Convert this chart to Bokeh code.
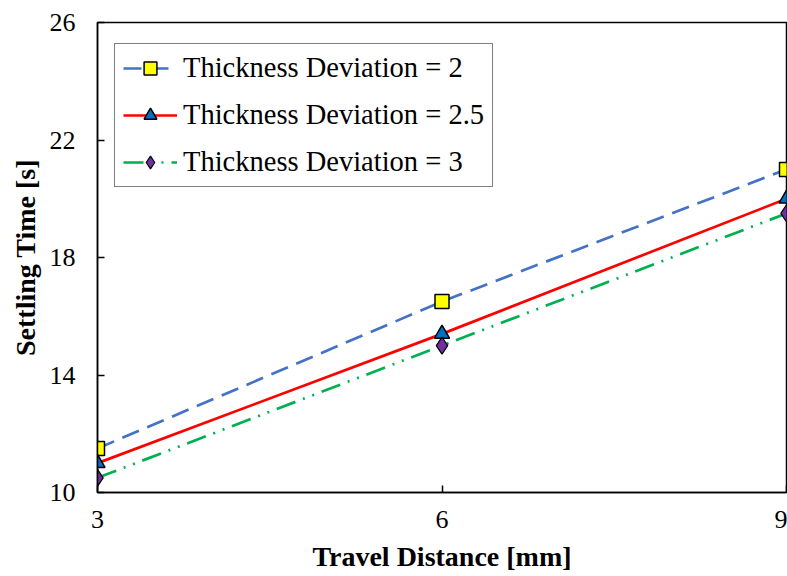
from bokeh.plotting import figure
from bokeh.models import FixedTicker, Legend, LegendItem, Range1d
from bokeh.embed import file_html
from bokeh.resources import INLINE

x = [3, 6, 9]
dev_2 = [11.5, 16.5, 21.0]
dev_25 = [11.0, 15.4, 20.0]
dev_3 = [10.5, 15.0, 19.5]
labels = ["Thickness Deviation = 2", "Thickness Deviation = 2.5", "Thickness Deviation = 3"]
x_ticks = [3, 6, 9]
y_ticks = [10, 14, 18, 22, 26]

FONT = "Liberation Serif"

p = figure(width=787, height=576, output_backend="svg", toolbar_location=None,
           x_range=Range1d(3, 9), y_range=Range1d(10, 26),
           min_border_left=97, min_border_right=1, min_border_top=22, min_border_bottom=84)
p.grid.visible = False
p.outline_line_color = "black"
p.outline_line_width = 1.5

r1l = p.line(x, dev_2, line_color="#4472C4", line_width=2.7, line_dash="18 9")
r1m = p.scatter(x, dev_2, marker="square", size=14, fill_color="#FFFF00", line_color="black", line_width=1.5)
r2l = p.line(x, dev_25, line_color="#FF0000", line_width=2.7)
r2m = p.scatter(x, dev_25, marker="triangle", size=15, fill_color="#0070C0", line_color="black", line_width=1.5)
r3l = p.line(x, dev_3, line_color="#00B050", line_width=2.7, line_dash="20 8 2 8 2 8")
r3m = p.scatter(x, dev_3, marker="diamond", size=17, fill_color="#7030A0", line_color="black", line_width=1.2)

legend = Legend(items=[
    LegendItem(label=labels[0], renderers=[r1l, r1m]),
    LegendItem(label=labels[1], renderers=[r2l, r2m]),
    LegendItem(label=labels[2], renderers=[r3l, r3m]),
], location=(17, 305))
legend.padding = 8
legend.border_line_color = "black"
legend.border_line_width = 1.5
legend.label_text_font = FONT
legend.label_text_font_size = "28.5px"
legend.label_text_color = "black"
legend.glyph_width = 54
legend.glyph_height = 32
legend.label_height = 32
legend.label_standoff = 6
legend.spacing = 15
legend.background_fill_alpha = 1.0
p.add_layout(legend)

for ax in (p.xaxis[0], p.yaxis[0]):
    ax.axis_line_color = "black"
    ax.axis_line_width = 1.5
    ax.major_tick_in = 7
    ax.major_tick_out = 0
    ax.major_tick_line_color = "black"
    ax.major_tick_line_width = 1.5
    ax.minor_tick_line_color = None
    ax.major_label_text_font = FONT
    ax.major_label_text_font_size = "26px"
    ax.major_label_text_color = "black"
    ax.axis_label_text_font = FONT
    ax.axis_label_text_font_size = "28px"
    ax.axis_label_text_font_style = "bold"
    ax.axis_label_text_color = "black"

p.xaxis.ticker = FixedTicker(ticks=x_ticks)
p.yaxis.ticker = FixedTicker(ticks=y_ticks)
p.xaxis.axis_label = "Travel Distance [mm]"
p.yaxis.axis_label = "Settling Time [s]"
p.xaxis.major_label_standoff = 18
p.yaxis.major_label_standoff = 22
p.xaxis.axis_label_standoff = 10
p.yaxis.axis_label_standoff = 6

open("out.html", "w").write(file_html(p, INLINE))
